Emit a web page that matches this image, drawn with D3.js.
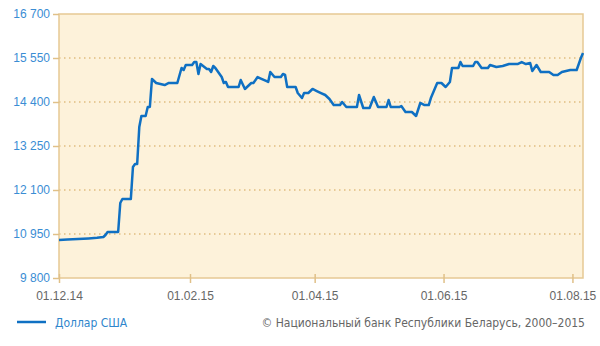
<!DOCTYPE html>
<html>
<head>
<meta charset="utf-8">
<script src="https://cdn.jsdelivr.net/npm/d3@7"></script>
<style>
  body { margin: 0; background: #fff; }
  svg { display: block; font-family: "DejaVu Sans Condensed", "DejaVu Sans", sans-serif; }
</style>
</head>
<body>
<div id="chart"></div>
<script>
// exchange rate, BYR per 1 USD
const dates = [
  "01.12.14","05.12.14","10.12.14","15.12.14","19.12.14","22.12.14","23.12.14","24.12.14","29.12.14","30.12.14",
  "31.12.14","04.01.15","05.01.15","06.01.15","07.01.15","08.01.15","09.01.15","11.01.15","12.01.15","13.01.15",
  "14.01.15","16.01.15","18.01.15","20.01.15","22.01.15","26.01.15","28.01.15","29.01.15","30.01.15","02.02.15",
  "03.02.15","04.02.15","05.02.15","06.02.15","09.02.15","10.02.15","11.02.15","12.02.15","13.02.15","16.02.15",
  "17.02.15","18.02.15","19.02.15","24.02.15","25.02.15","27.02.15","02.03.15","03.03.15","05.03.15","06.03.15",
  "09.03.15","10.03.15","11.03.15","13.03.15","16.03.15","17.03.15","18.03.15","19.03.15","23.03.15","24.03.15",
  "26.03.15","27.03.15","29.03.15","31.03.15","02.04.15","04.04.15","06.04.15","08.04.15","10.04.15","13.04.15",
  "14.04.15","16.04.15","21.04.15","22.04.15","24.04.15","27.04.15","29.04.15","01.05.15","05.05.15","06.05.15",
  "07.05.15","11.05.15","12.05.15","14.05.15","17.05.15","19.05.15","21.05.15","23.05.15","25.05.15","26.05.15",
  "29.05.15","31.05.15","02.06.15","04.06.15","05.06.15","08.06.15","09.06.15","10.06.15","15.06.15","16.06.15",
  "17.06.15","19.06.15","22.06.15","23.06.15","26.06.15","29.06.15","02.07.15","06.07.15","08.07.15","10.07.15",
  "12.07.15","13.07.15","15.07.15","17.07.15","21.07.15","23.07.15","25.07.15","27.07.15","31.07.15","03.08.15",
  "05.08.15","06.08.15"
];
const usd = [
  10793,10805,10820,10835,10850,10872,10924,11002,11002,11760,
  11865,11865,12701,12780,12780,13746,14034,14034,14269,14269,
  15001,14897,14870,14844,14897,14897,15289,15236,15367,15367,
  15445,15445,15132,15393,15262,15262,15184,15341,15289,15053,
  14897,14923,14792,14792,14975,14740,14897,14897,15053,15027,
  14950,14923,15184,15053,15053,15132,15106,14792,14792,14635,
  14504,14635,14635,14740,14687,14635,14583,14478,14321,14321,
  14400,14269,14269,14583,14243,14243,14531,14269,14269,14452,
  14269,14269,14295,14139,14139,14034,14374,14321,14321,14504,
  14897,14897,14792,14923,15289,15289,15445,15341,15341,15445,
  15445,15289,15289,15367,15315,15341,15393,15393,15445,15393,
  15419,15210,15367,15184,15184,15106,15106,15184,15236,15236,
  15550,15681
];
const yTicks = [9800, 10950, 12100, 13250, 14400, 15550, 16700];
const xTicks = ["01.12.14", "01.02.15", "01.04.15", "01.06.15", "01.08.15"];
const seriesName = "Доллар США";
const credit = "© Национальный банк Республики Беларусь, 2000–2015";

const width = 600, height = 346;
const margin = {top: 14, right: 17, bottom: 68, left: 59};

const parse = d3.timeParse("%d.%m.%y");
const fmtDate = d3.timeFormat("%d.%m.%y");
const locale = d3.formatLocale({decimal: ",", thousands: " ", grouping: [3], currency: ["", ""]});
const fmtNum = locale.format(",d");

const data = dates.map((d, i) => ({date: parse(d), value: usd[i]}));

const svg = d3.select("#chart").append("svg")
  .attr("width", width)
  .attr("height", height);

const x = d3.scaleTime()
  .domain([parse("01.12.14"), parse("06.08.15")])
  .range([margin.left, width - margin.right]);

const y = d3.scaleLinear()
  .domain([9800, 16700])
  .range([height - margin.bottom, margin.top]);

// plot background
svg.append("rect")
  .attr("x", margin.left)
  .attr("y", margin.top)
  .attr("width", width - margin.left - margin.right)
  .attr("height", height - margin.top - margin.bottom)
  .attr("fill", "#fdf2da");

// dotted grid
svg.append("g")
  .selectAll("line")
  .data(yTicks.slice(1, -1))
  .join("line")
  .attr("x1", margin.left)
  .attr("x2", width - margin.right)
  .attr("y1", d => y(d))
  .attr("y2", d => y(d))
  .attr("stroke", "#dfbd80")
  .attr("stroke-width", 1.5)
  .attr("stroke-dasharray", "1.5,3.5");

// frame
svg.append("rect")
  .attr("x", margin.left)
  .attr("y", margin.top)
  .attr("width", width - margin.left - margin.right)
  .attr("height", height - margin.top - margin.bottom)
  .attr("fill", "none")
  .attr("stroke", "#e6c994")
  .attr("stroke-width", 1.5);

// y axis
const yAxis = svg.append("g")
  .attr("transform", `translate(${margin.left},0)`)
  .call(d3.axisLeft(y).tickValues(yTicks).tickFormat(fmtNum).tickSize(6).tickPadding(3));
yAxis.select(".domain").remove();
yAxis.selectAll("line").attr("stroke", "#e0c088").attr("stroke-width", 1.5);
yAxis.selectAll("text")
  .attr("fill", "#3a8dd4")
  .attr("font-size", 12)
  .attr("font-family", null);

// x axis
const xAxis = svg.append("g")
  .attr("transform", `translate(0,${height - margin.bottom})`)
  .call(d3.axisBottom(x).tickValues(xTicks.map(parse)).tickFormat(fmtDate).tickSize(5).tickPadding(8));
xAxis.select(".domain").remove();
xAxis.selectAll("line")
  .attr("y1", -4)
  .attr("stroke", "#e0c088")
  .attr("stroke-width", 1.5);
xAxis.selectAll("text")
  .attr("fill", "#666")
  .attr("font-size", 12)
  .attr("font-family", null);

// series line
const line = d3.line()
  .x(d => x(d.date))
  .y(d => y(d.value));

svg.append("path")
  .datum(data)
  .attr("d", line)
  .attr("fill", "none")
  .attr("stroke", "#0f70c3")
  .attr("stroke-width", 2.5)
  .attr("stroke-linejoin", "round");

// legend
svg.append("line")
  .attr("x1", 17).attr("x2", 46)
  .attr("y1", 322).attr("y2", 322)
  .attr("stroke", "#0f70c3")
  .attr("stroke-width", 2.5);

svg.append("text")
  .attr("x", 55).attr("y", 327)
  .attr("font-size", 12)
  .attr("fill", "#2f86cc")
  .text(seriesName);

svg.append("text")
  .attr("x", 585).attr("y", 327)
  .attr("text-anchor", "end")
  .attr("font-size", 12)
  .attr("fill", "#666")
  .text(credit);
</script>
</body>
</html>
